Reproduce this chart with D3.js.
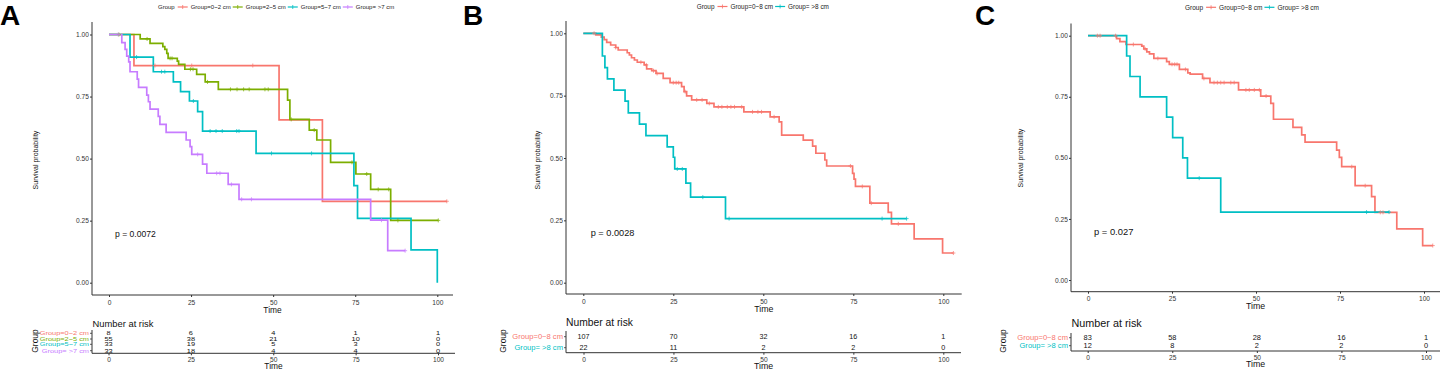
<!DOCTYPE html>
<html><head><meta charset="utf-8">
<script src="https://cdn.jsdelivr.net/npm/d3@7"></script>
<style>
body{margin:0;background:#fff}
svg{display:block}
text{font-family:"Liberation Sans",Arial,Helvetica,sans-serif}
</style>
</head><body>
<svg id="chart" width="1440" height="370"></svg>
<script>
// ---------------- DATA ----------------
const xTickValues = [0, 25, 50, 75, 100];
const xTickLabels = ["0", "25", "50", "75", "100"];
const yTickValues = [0, 0.25, 0.5, 0.75, 1];
const yTickLabels = ["0.00", "0.25", "0.50", "0.75", "1.00"];

// Panel A
const A_groups = ["Group=0~2 cm", "Group=2~5 cm", "Group=5~7 cm", "Group= >7 cm"];
const A_pvalue = "p = 0.0072";
const A_curve_0_2 = [[0,1],[7.6,0.875],[51.8,0.656],[65,0.328],[102.9,0.328]];
const A_cens_0_2 = [14, 25.2, 43.8, 102.9];
const A_curve_2_5 = [[0,1],[9.5,0.982],[12.5,0.964],[16.4,0.951],[17,0.94],[17.6,0.924],[18,0.904],[20.8,0.893],[21.2,0.88],[23.1,0.86],[26.7,0.839],[29.3,0.809],[33.3,0.779],[54.4,0.736],[55.1,0.658],[61,0.615],[63.3,0.575],[67.5,0.485],[75.2,0.438],[79.7,0.376],[85.8,0.251],[100.3,0.251]];
const A_cens_2_5 = [3, 11.6, 18.6, 19.2, 24.8, 25.6, 30, 37, 39, 41, 42.7, 47.5, 48.5, 55.5, 62.5, 74, 78.5, 82, 85.2, 88, 100.3];
const A_curve_5_7 = [[0,1],[6.4,0.909],[13.5,0.85],[19.6,0.809],[21.8,0.77],[24.5,0.732],[27,0.689],[28.5,0.611],[44.8,0.521],[74.6,0.391],[75.7,0.259],[92,0.132],[100,0]];
const A_cens_5_7 = [8.4, 16, 17, 25.7, 30.8, 32.6, 34.5, 38.9, 39.6, 49.5, 61.7];
const A_curve_gt7 = [[0,1],[3.9,0.967],[4.9,0.94],[5.4,0.913],[6,0.89],[6.4,0.85],[8.6,0.82],[9,0.787],[11.5,0.756],[12,0.729],[12.5,0.699],[15,0.67],[15.5,0.638],[17.4,0.606],[23.5,0.575],[24.7,0.548],[25.2,0.517],[28.5,0.478],[29.8,0.441],[36.3,0.396],[39.6,0.336],[79.7,0.252],[84.9,0.129],[90.2,0.129]];
const A_cens_gt7 = [2.8, 27, 32.8, 33.8, 37.3, 40.4, 43.4, 83, 90.2];
const A_risk = [[8,6,4,1,1],[55,38,21,10,0],[33,19,5,3,0],[33,18,4,4,0]];

// Panel B
const B_groups = ["Group=0~8 cm", "Group= >8 cm"];
const B_pvalue = "p = 0.0028";
const B_curve_0_8 = [[0,1],[3.5,0.994],[5,0.985],[5.8,0.975],[6.5,0.964],[7.6,0.953],[9,0.943],[9.7,0.933],[12.2,0.922],[12.8,0.913],[13.4,0.902],[14.2,0.893],[15,0.884],[16.9,0.873],[17.6,0.857],[19,0.85],[20.2,0.839],[22.2,0.819],[24.1,0.802],[27.3,0.786],[28,0.766],[28.7,0.749],[30.1,0.733],[34.3,0.719],[36.3,0.705],[44.6,0.685],[51.9,0.665],[54.4,0.645],[55.1,0.592],[61.1,0.572],[63.7,0.548],[64.6,0.519],[67.1,0.492],[67.6,0.468],[74.8,0.438],[75.2,0.415],[75.6,0.386],[79.6,0.319],[84.7,0.282],[85.6,0.236],[91.9,0.176],[99.8,0.119],[102.8,0.119]];
const B_cens_0_8 = [3, 9, 16, 17.5, 19.5, 20.5, 25, 25.8, 26.5, 28.3, 31.5, 33, 35, 37.5, 38.5, 40, 41, 42, 44, 47, 48.5, 49.5, 53, 74.2, 77.5, 80, 87.5, 102.8];
const B_curve_gt8 = [[0,1],[5.3,0.909],[6,0.862],[6.7,0.817],[8.5,0.772],[11.6,0.728],[12.5,0.681],[15.6,0.636],[17.4,0.59],[23.3,0.545],[25,0.503],[25.4,0.456],[28.5,0.399],[29.8,0.343],[39.5,0.257],[89.8,0.257]];
const B_cens_gt8 = [26.1, 27.5, 33.2, 40.5, 83, 89.8];
const B_risk = [[107,70,32,16,1],[22,11,2,2,0]];

// Panel C
const C_groups = ["Group=0~8 cm", "Group= >8 cm"];
const C_pvalue = "p = 0.027";
const C_curve_0_8 = [[0,1],[8.5,0.988],[9.5,0.976],[11.3,0.964],[16,0.957],[16.6,0.946],[17.5,0.934],[18.3,0.926],[19.6,0.907],[23.4,0.894],[24.2,0.883],[27.2,0.862],[29.7,0.848],[30.4,0.843],[34.1,0.825],[36.3,0.808],[44.8,0.778],[51.4,0.753],[54.4,0.723],[55.2,0.658],[61,0.625],[63.6,0.594],[64.6,0.564],[74,0.532],[74.8,0.502],[75.5,0.464],[79.5,0.386],[84.4,0.341],[85.4,0.277],[91.9,0.209],[99.6,0.141],[102.6,0.141]];
const C_cens_0_8 = [2.8, 3.6, 8.2, 13.5, 17, 20.8, 25, 25.8, 26.5, 29, 34.5, 37.5, 38.5, 39.5, 40.5, 42.5, 43.5, 47, 48, 49.5, 51, 53, 78.5, 82.5, 87, 87.8, 102.6];
const C_curve_gt8 = [[0,1],[11.5,0.917],[12.5,0.833],[15.5,0.75],[23.4,0.667],[25.2,0.583],[28.2,0.5],[29.6,0.417],[39.5,0.278],[89.6,0.278]];
const C_cens_gt8 = [33.1, 82.9, 89.6];
const C_risk = [[83,58,28,16,1],[12,8,2,2,0]];

// ---------------- STYLE / LAYOUT ----------------
const colors4 = ["#F8766D", "#7CAE00", "#00BFC4", "#C77CFF"];
const colors2 = ["#F8766D", "#00BFC4"];

const layouts = [
  { letter:"A", letterX:0, letterY:25,
    axX:92, axTop:22, axBot:295, y0:282.7, y1:34.5, x0:109, x100:437.3, xEnd:453,
    tickLabY:302, timeY:309.5, ylabX:35, ylabY:160, pX:115, pY:234, pFont:8.6,
    legY:7, legStartX:158, legFont:6,
    rTitleX:92.5, rTitleY:323.3, rTitleFont:9.4, rRows:[333.3,339,344.3,350.7], rTop:330, rAxY:353.3,
    rx0:108.5, rx100:438, rEnd:455, rTickLabY:359.3, rTimeY:365.8, rGroupX:35, rGroupY:341,
    rNumFont:7.4, rLabFont:7.4, rSquish:0.72, tickFont:6.6, timeFont:8.4 },
  { letter:"B", letterX:463, letterY:25,
    axX:566, axTop:21, axBot:294, y0:282.7, y1:33.3, x0:583.3, x100:943.3, xEnd:961.7,
    tickLabY:301, timeY:308.5, ylabX:537, ylabY:160, pX:590.7, pY:233.3, pFont:9.2,
    legY:6.5, legStartX:696.7, legFont:6.4,
    rTitleX:566, rTitleY:322.7, rTitleFont:10.3, rRows:[336.7,347.7], rTop:331, rAxY:352.7,
    rx0:583.5, rx100:943.3, rEnd:961, rTickLabY:359.3, rTimeY:365.8, rGroupX:502.7, rGroupY:341,
    rNumFont:7.2, rLabFont:7.6, rSquish:1, tickFont:6.6, timeFont:8.8 },
  { letter:"C", letterX:975, letterY:25,
    axX:1071, axTop:23.5, axBot:291.7, y0:280, y1:35.7, x0:1088, x100:1424, xEnd:1440,
    tickLabY:298.5, timeY:306, ylabX:1020, ylabY:158, pX:1094, pY:231.7, pFont:9.4,
    legY:7.3, legStartX:1185, legFont:6.5,
    rTitleX:1071.5, rTitleY:323.3, rTitleFont:10.8, rRows:[337.7,345.7], rTop:333, rAxY:351,
    rx0:1087.7, rx100:1426, rEnd:1440, rTickLabY:357.3, rTimeY:364.3, rGroupX:1003, rGroupY:341,
    rNumFont:7.4, rLabFont:7.6, rSquish:1, tickFont:6.6, timeFont:8.8 }
];

// ---------------- DRAW ----------------
const svg = d3.select("#chart");
const axisColor = "#333";

function survAt(curve, t) {
  let s = curve[0][1];
  for (const p of curve) { if (p[0] <= t) s = p[1]; }
  return s;
}

function drawPanel(L, groups, curves, cens, risk, colors, pvalue) {
  const g = svg.append("g");
  const x = d3.scaleLinear().domain([0, 100]).range([L.x0, L.x100]);
  const y = d3.scaleLinear().domain([0, 1]).range([L.y0, L.y1]);

  // panel letter
  g.append("text").attr("x", L.letterX).attr("y", L.letterY)
    .attr("font-size", 28).attr("font-weight", "bold").attr("fill", "#000").text(L.letter);

  // legend
  const leg = g.append("g");
  let lx = L.legStartX;
  const lt = leg.append("text").attr("x", lx).attr("y", L.legY).attr("dominant-baseline", "central")
    .attr("font-size", L.legFont).attr("fill", "#222").text("Group");
  lx += lt.node().getComputedTextLength() + 3;
  groups.forEach((name, i) => {
    leg.append("line").attr("x1", lx).attr("x2", lx + 10).attr("y1", L.legY).attr("y2", L.legY)
      .attr("stroke", colors[i]).attr("stroke-width", 1.2);
    leg.append("line").attr("x1", lx + 5).attr("x2", lx + 5).attr("y1", L.legY - 2).attr("y2", L.legY + 2)
      .attr("stroke", colors[i]).attr("stroke-width", 0.8);
    lx += 13;
    const t = leg.append("text").attr("x", lx).attr("y", L.legY).attr("dominant-baseline", "central")
      .attr("font-size", L.legFont).attr("fill", "#222").text(name);
    lx += t.node().getComputedTextLength() + 2;
  });

  // axes lines
  g.append("line").attr("x1", L.axX).attr("x2", L.axX).attr("y1", L.axTop).attr("y2", L.axBot)
    .attr("stroke", axisColor).attr("stroke-width", 1);
  g.append("line").attr("x1", L.axX).attr("x2", L.xEnd).attr("y1", L.axBot).attr("y2", L.axBot)
    .attr("stroke", axisColor).attr("stroke-width", 1);

  const yAx = g.append("g").attr("transform", `translate(${L.axX},0)`)
    .call(d3.axisLeft(y).tickValues(yTickValues).tickFormat((d, i) => yTickLabels[i]).tickSize(2).tickPadding(1.2));
  yAx.select(".domain").remove();
  yAx.selectAll("line").attr("stroke", axisColor);
  yAx.selectAll("text").attr("font-size", L.tickFont).attr("fill", "#333")
    .attr("font-family", '"Liberation Sans",Arial,sans-serif');

  const xAx = g.append("g").attr("transform", `translate(0,${L.axBot})`)
    .call(d3.axisBottom(x).tickValues(xTickValues).tickFormat((d, i) => xTickLabels[i]).tickSize(2).tickPadding(1));
  xAx.select(".domain").remove();
  xAx.selectAll("line").attr("stroke", axisColor);
  xAx.selectAll("text").attr("font-size", L.tickFont).attr("fill", "#333")
    .attr("font-family", '"Liberation Sans",Arial,sans-serif')
    .attr("dy", null).attr("y", L.tickLabY - L.axBot).attr("dominant-baseline", "central");

  g.append("text").attr("x", (L.axX + L.xEnd) / 2).attr("y", L.timeY).attr("text-anchor", "middle")
    .attr("dominant-baseline", "central").attr("font-size", L.timeFont).attr("fill", "#111").text("Time");

  g.append("text").attr("transform", `translate(${L.ylabX},${L.ylabY}) rotate(-90)`)
    .attr("text-anchor", "middle").attr("dominant-baseline", "central")
    .attr("font-size", 7).attr("fill", "#111").text("Survival probability");

  // curves
  const line = d3.line().x(d => x(d[0])).y(d => y(d[1])).curve(d3.curveStepAfter);
  curves.forEach((c, i) => {
    g.append("path").attr("d", line(c)).attr("fill", "none").attr("stroke", colors[i])
      .attr("stroke-width", 1.7).attr("stroke-linejoin", "miter");
  });
  // censor marks
  cens.forEach((arr, i) => {
    arr.forEach(t => {
      const cx = x(t), cy = y(survAt(curves[i], t));
      g.append("path").attr("d", `M${cx - 2},${cy}H${cx + 2}M${cx},${cy - 2}V${cy + 2}`)
        .attr("stroke", colors[i]).attr("stroke-width", 0.9).attr("opacity", 0.8);
    });
  });

  // p-value
  g.append("text").attr("x", L.pX).attr("y", L.pY).attr("dominant-baseline", "central")
    .attr("font-size", L.pFont).attr("fill", "#111").text(pvalue);

  // risk table
  const rx = d3.scaleLinear().domain([0, 100]).range([L.rx0, L.rx100]);
  g.append("text").attr("x", L.rTitleX).attr("y", L.rTitleY).attr("dominant-baseline", "central")
    .attr("font-size", L.rTitleFont).attr("fill", "#111").text("Number at risk");
  g.append("line").attr("x1", L.axX).attr("x2", L.axX).attr("y1", L.rTop).attr("y2", L.rAxY)
    .attr("stroke", axisColor).attr("stroke-width", 1);
  g.append("line").attr("x1", L.axX).attr("x2", L.rEnd).attr("y1", L.rAxY).attr("y2", L.rAxY)
    .attr("stroke", axisColor).attr("stroke-width", 1);
  risk.forEach((row, i) => {
    const ry = L.rRows[i];
    g.append("line").attr("x1", L.axX - 2).attr("x2", L.axX).attr("y1", ry).attr("y2", ry)
      .attr("stroke", axisColor).attr("stroke-width", 0.8);
    g.append("text").attr("transform", `translate(${L.axX - 3},${ry}) scale(1,${L.rSquish})`)
      .attr("text-anchor", "end")
      .attr("dominant-baseline", "central").attr("font-size", L.rLabFont).attr("fill", colors[i]).text(groups[i]);
    row.forEach((v, j) => {
      g.append("text").attr("transform", `translate(${rx(xTickValues[j])},${ry}) scale(1,${L.rSquish})`)
        .attr("text-anchor", "middle")
        .attr("dominant-baseline", "central").attr("font-size", L.rNumFont).attr("fill", "#111").text(v);
    });
  });
  const rAx = g.append("g").attr("transform", `translate(0,${L.rAxY})`)
    .call(d3.axisBottom(rx).tickValues(xTickValues).tickFormat((d, i) => xTickLabels[i]).tickSize(2).tickPadding(1));
  rAx.select(".domain").remove();
  rAx.selectAll("line").attr("stroke", axisColor);
  rAx.selectAll("text").attr("font-size", L.tickFont).attr("fill", "#333")
    .attr("font-family", '"Liberation Sans",Arial,sans-serif')
    .attr("dy", null).attr("y", L.rTickLabY - L.rAxY).attr("dominant-baseline", "central");
  g.append("text").attr("x", (L.axX + L.rEnd) / 2).attr("y", L.rTimeY).attr("text-anchor", "middle")
    .attr("dominant-baseline", "central").attr("font-size", L.timeFont).attr("fill", "#111").text("Time");
  g.append("text").attr("transform", `translate(${L.rGroupX},${L.rGroupY}) rotate(-90)`)
    .attr("text-anchor", "middle").attr("dominant-baseline", "central")
    .attr("font-size", 8.5).attr("fill", "#111").text("Group");
}

drawPanel(layouts[0], A_groups,
  [A_curve_0_2, A_curve_2_5, A_curve_5_7, A_curve_gt7],
  [A_cens_0_2, A_cens_2_5, A_cens_5_7, A_cens_gt7], A_risk, colors4, A_pvalue);
drawPanel(layouts[1], B_groups, [B_curve_0_8, B_curve_gt8], [B_cens_0_8, B_cens_gt8], B_risk, colors2, B_pvalue);
drawPanel(layouts[2], C_groups, [C_curve_0_8, C_curve_gt8], [C_cens_0_8, C_cens_gt8], C_risk, colors2, C_pvalue);
</script>
</body></html>
